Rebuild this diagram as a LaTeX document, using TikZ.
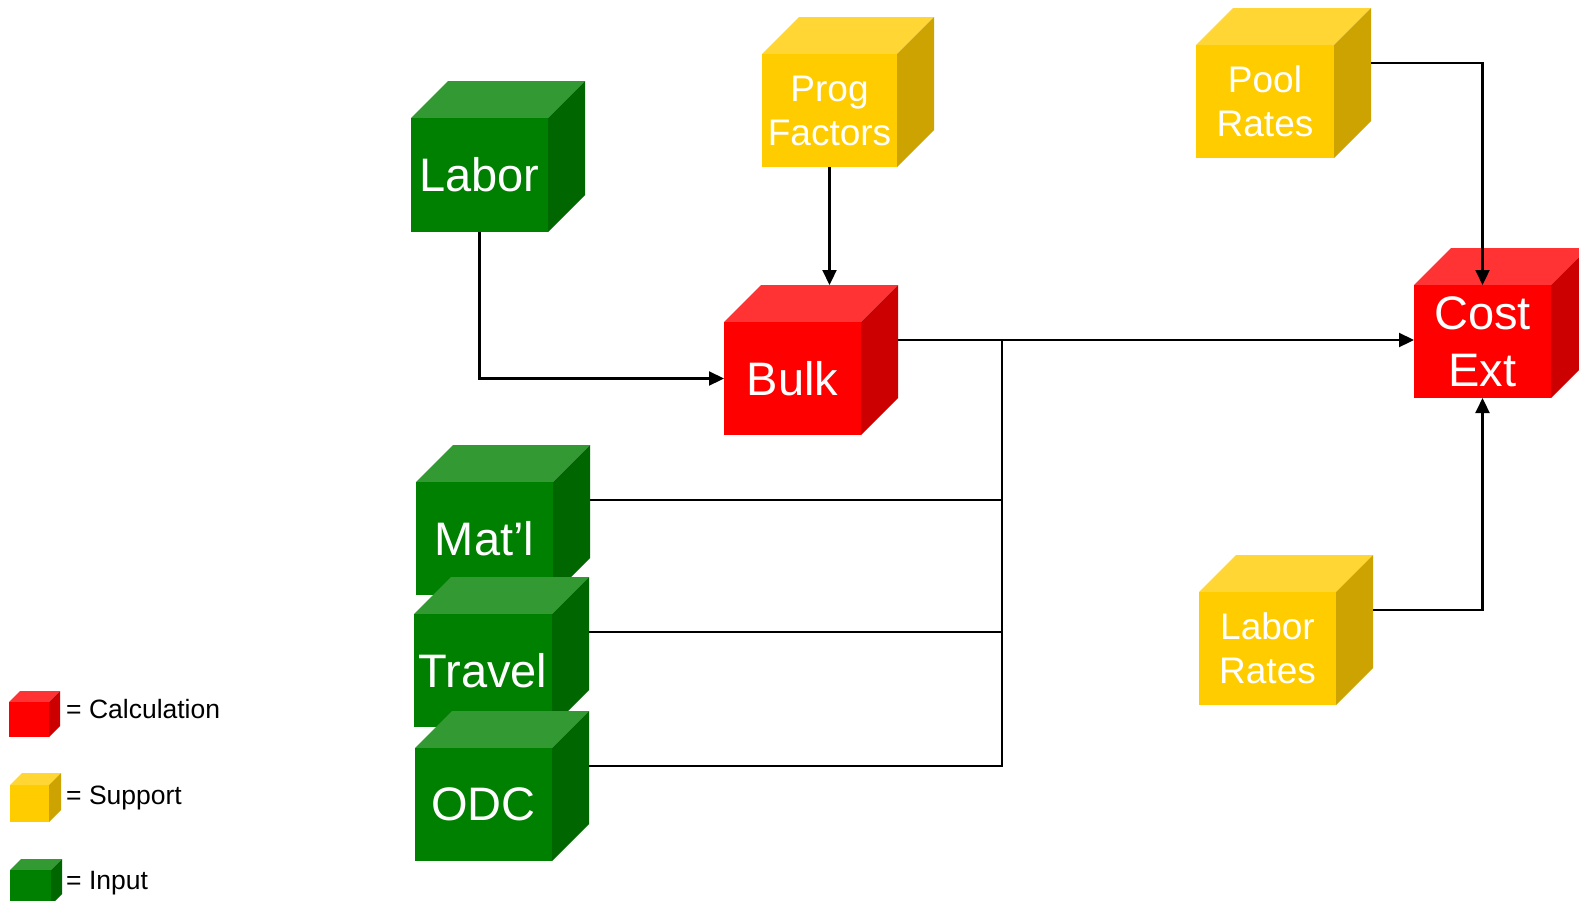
\documentclass[tikz,border=0pt]{standalone}
\usepackage{fontspec}
\setmainfont{Liberation Sans}
\usetikzlibrary{arrows.meta,calc}
\definecolor{rfront}{HTML}{FF0000}
\definecolor{rtop}{HTML}{FF3333}
\definecolor{rside}{HTML}{CC0000}
\definecolor{yfront}{HTML}{FFCC00}
\definecolor{ytop}{HTML}{FFD633}
\definecolor{yside}{HTML}{CCA300}
\definecolor{gfront}{HTML}{008000}
\definecolor{gtop}{HTML}{339933}
\definecolor{gside}{HTML}{006600}
\newcommand{\cubebox}[9]{%
 \fill[#7top] (#2,#3) -- ++(#6,-#6) -- ++(#4,0) -- ++(-#6,#6) -- cycle;
 \fill[#7side] ({#2+#4},#3) -- ++(#6,-#6) -- ++(0,#5) -- ++(-#6,#6) -- cycle;
 \node[cubeface, fill=#7front, minimum width=#4pt, minimum height=#5pt, #8] (#1) at (#2,#3) {#9};
 \coordinate (#1-out) at ({#2+#4+#6},{#3+18});
 \coordinate (#1-back) at ({#2+#6},{#3-#6});
}
\tikzset{
 cubeface/.style={anchor=north west, inner sep=0pt, outer sep=0pt, text=white, align=center},
 bigfont/.style={font=\fontsize{47pt}{57pt}\selectfont},
 smallfont/.style={font=\fontsize{37pt}{44pt}\selectfont},
 legtext/.style={anchor=west, inner sep=0pt, font=\fontsize{26.5pt}{30pt}\selectfont},
 conn/.style={line width=2.2pt, draw=black},
 arr/.style={conn, -{Triangle[length=15pt,width=14pt]}}
}
\begin{document}
\begin{tikzpicture}[x=1pt,y=-1pt]
\useasboundingbox[fill=white] (0,0) rectangle (1579,900);
% legend
\cubebox{legcalc}{9}{702}{40}{35}{11}{r}{}{}
\cubebox{legsup}{10}{785}{39}{37}{12}{y}{}{}
\cubebox{leginp}{10}{870}{41}{35}{11}{g}{}{}
\node[legtext] (tcalc) at (66,709) {= Calculation};
\node[legtext] (tsup) at (66,798) {= Support};
\node[legtext] (tinp) at (66,883) {= Input};
% cubes
\cubebox{labor}{411}{118}{137}{114}{37}{g}{bigfont}{Labor}
\cubebox{prog}{762}{54}{135}{113}{37}{y}{smallfont}{Prog\\Factors}
\cubebox{pool}{1196}{45}{138}{113}{37}{y}{smallfont}{Pool\\Rates}
\cubebox{bulk}{724}{322}{137}{113}{37}{r}{bigfont}{Bulk}
\cubebox{cost}{1414}{285}{137}{113}{37}{r}{bigfont}{Cost\\Ext}
\cubebox{matl}{416}{482}{137}{113}{37}{g}{bigfont}{Mat’l}
\cubebox{travel}{414}{614}{138}{113}{37}{g}{bigfont}{Travel}
\cubebox{odc}{415}{748}{137}{113}{37}{g}{bigfont}{ODC}
\cubebox{lrates}{1199}{592}{137}{113}{37}{y}{smallfont}{Labor\\Rates}
% connectors
\coordinate (bus) at (1002,340);
\draw[arr] (labor.south) |- (bulk.west);
\draw[arr] (prog.south) -- (prog.south |- bulk-back);
\draw[arr] (pool-out) -| (cost.north);
\draw[arr] (lrates-out) -| (cost.south);
\draw[arr] (bulk-out) -- (bulk-out -| cost.west);
\draw[conn] (odc-out) -| (bus);
\draw[conn] (matl-out) -- (matl-out -| bus);
\draw[conn] (travel-out) -- (travel-out -| bus);
\end{tikzpicture}
\end{document}
